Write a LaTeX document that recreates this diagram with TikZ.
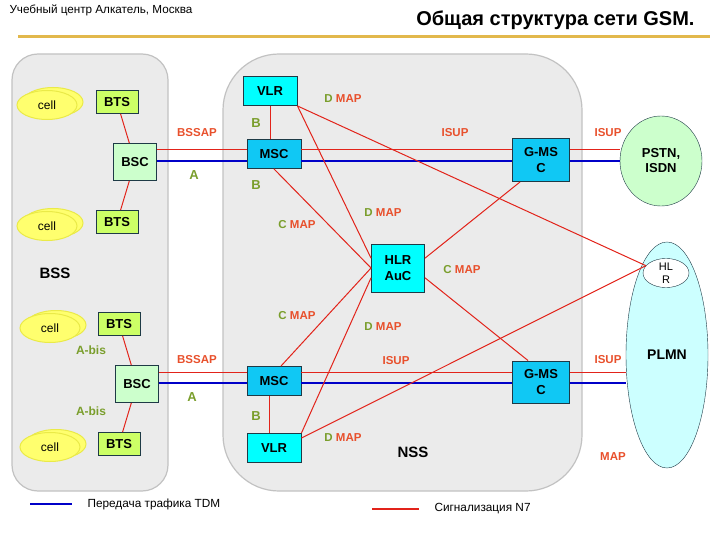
\documentclass[tikz,border=0pt]{standalone}
\usepackage{fontspec}
\setmainfont{Liberation Sans}
\usetikzlibrary{shapes.geometric}

\definecolor{sigred}{HTML}{E2231A}
\definecolor{labred}{HTML}{E8502C}
\definecolor{labgreen}{HTML}{7A9E2C}
\definecolor{tdmblue}{HTML}{0000C8}
\definecolor{gold}{HTML}{E2B84C}
\definecolor{panelfill}{HTML}{EBEBEB}
\definecolor{panelline}{HTML}{C2C2C2}
\definecolor{boxline}{HTML}{1E3A46}
\definecolor{vlrcol}{HTML}{00FFFF}
\definecolor{msccol}{HTML}{10C8F4}
\definecolor{btscol}{HTML}{CCFF66}
\definecolor{bsccol}{HTML}{CCFFCC}
\definecolor{plmncol}{HTML}{CCFFFF}
\definecolor{cellcol}{HTML}{FFFF6E}
\definecolor{celledge}{HTML}{EAEA48}

\tikzset{
  box/.style = {draw = boxline, line width = 0.9pt, minimum width = 54pt, minimum height = 29pt,
    inner sep = 0pt, align = center, font = \fontsize{13}{16}\selectfont\bfseries},
  btsbox/.style = {box, fill = btscol, minimum width = 42pt, minimum height = 23pt},
  bscbox/.style = {box, fill = bsccol, minimum width = 43pt, minimum height = 37pt},
  cell/.style = {ellipse, draw = celledge, line width = 1pt, fill = cellcol,
    minimum width = 60pt, minimum height = 29pt, inner sep = 0pt, font = \fontsize{12}{12}\selectfont},
  sig/.style = {draw = sigred, line width = 1pt},
  tdm/.style = {draw = tdmblue, line width = 1.7pt},
  lab/.style = {text = labred, font = \fontsize{11.5}{12}\selectfont\bfseries},
  ifc/.style = {text = labgreen, font = \fontsize{13}{14}\selectfont\bfseries},
  panel/.style = {fill = panelfill, draw = panelline, line width = 1.2pt}
}

\begin{document}
\begin{tikzpicture}[x = 1pt, y = -1pt]
            \useasboundingbox (0, 0) rectangle (720, 540);
            % header
            \node [anchor = west, font = \fontsize{11.7}{13}\selectfont] (school) at (6, 10) {Учебный центр Алкатель, Москва};
            \node [anchor = east, font = \fontsize{20}{22}\selectfont\bfseries] (title) at (698, 20) {Общая структура сети GSM.};
            \draw [gold, line width = 3pt] (18, 37) -- (710, 37);
            % subsystems
            \draw [panel, rounded corners = 26] (12, 54) rectangle (168, 491);
            \draw [panel, rounded corners = 56] (223, 54) rectangle (582, 491);
            \node [font = \fontsize{15}{16}\selectfont\bfseries] (bss) at (55, 273) {BSS};
            \node [font = \fontsize{15}{16}\selectfont\bfseries] (nss) at (413, 452) {NSS};
            % cells
            \foreach \name/\x/\y in {cellA/47/105, cellB/47/226, cellC/50/328, cellD/50/447} {
                \node [cell] (\name back) at (\x + 6, \y - 3) {};
                \node [cell] (\name) at (\x, \y) {cell};
            }
            % BSS
            \node [btsbox] (btsA) at (117, 102) {BTS};
            \node [btsbox] (btsB) at (117, 222) {BTS};
            \node [bscbox] (bscA) at (135, 162) {BSC};
            \node [btsbox] (btsC) at (119, 324) {BTS};
            \node [btsbox] (btsD) at (119, 444) {BTS};
            \node [bscbox] (bscB) at (137, 384) {BSC};
            % NSS
            \node [box, fill = vlrcol] (vlrA) at (270, 91) {VLR};
            \node [box, fill = msccol] (mscA) at (274, 154) {MSC};
            \node [box, fill = msccol] (mscB) at (274, 381) {MSC};
            \node [box, fill = vlrcol] (vlrB) at (274, 448) {VLR};
            \node [box, fill = vlrcol, minimum width = 53pt, minimum height = 48pt] (hlr) at (398, 268) {HLR\\AuC};
            \node [box, fill = msccol, minimum width = 57pt, minimum height = 43pt] (gmscA) at (541, 160) {G-MS\\C};
            \node [box, fill = msccol, minimum width = 57pt, minimum height = 42pt] (gmscB) at (541, 382) {G-MS\\C};
            % other networks
            \node [ellipse, draw = boxline, fill = bsccol, minimum width = 82pt, minimum height = 90pt, inner sep = 0pt,
                align = center, font = \fontsize{13}{15}\selectfont\bfseries] (pstn) at (661, 161) {PSTN,\\ISDN};
            \node [ellipse, draw = boxline, fill = plmncol, minimum width = 82pt, minimum height = 226pt, inner sep = 0pt] (plmn) at (667, 355) {};
            \node [font = \fontsize{14}{16}\selectfont\bfseries] (plmnText) at (667, 355) {PLMN};
            \node [ellipse, draw = boxline, fill = white, minimum width = 46pt, minimum height = 28pt, inner sep = 0pt,
                align = center, font = \fontsize{11}{13}\selectfont] (hlrP) at (666, 273) {HL\\R};
            % line levels
            \coordinate (sigA) at (0, 150);
            \coordinate (tdmA) at (0, 161);
            \coordinate (sigB) at (0, 372);
            \coordinate (tdmB) at (0, 383);
            % A-bis
            \draw [sig] (btsA) -- (bscA);
            \draw [sig] (btsB) -- (bscA);
            \draw [sig] (btsC) -- (bscB);
            \draw [sig] (btsD) -- (bscB);
            % upper trunk
            \draw [sig] (bscA.east |- sigA) -- (mscA.west |- sigA);
            \draw [sig] (mscA.east |- sigA) -- (gmscA.west |- sigA);
            \draw [sig] (gmscA.east |- sigA) -- (pstn.west |- sigA);
            \draw [tdm] (bscA.east |- tdmA) -- (mscA.west |- tdmA);
            \draw [tdm] (mscA.east |- tdmA) -- (gmscA.west |- tdmA);
            \draw [tdm] (gmscA.east |- tdmA) -- (pstn.west |- tdmA);
            % lower trunk
            \draw [sig] (bscB.east |- sigB) -- (mscB.west |- sigB);
            \draw [sig] (mscB.east |- sigB) -- (gmscB.west |- sigB);
            \draw [sig] (gmscB.east |- sigB) -- (plmn.west |- sigB);
            \draw [tdm] (bscB.east |- tdmB) -- (mscB.west |- tdmB);
            \draw [tdm] (mscB.east |- tdmB) -- (gmscB.west |- tdmB);
            \draw [tdm] (gmscB.east |- tdmB) -- (plmn.west |- tdmB);
            % B
            \draw [sig] (vlrA.south) -- (vlrA.south |- mscA.north);
            \draw [sig] ([xshift = -5pt]mscB.south) -- ([xshift = -5pt]mscB.south |- vlrB.north);
            % MAP
            \draw [sig] (vlrA.south east) -- (hlr.160);
            \draw [sig] (vlrA.south east) -- (hlrP.160);
            \draw [sig] (mscA.south) -- (hlr.west);
            \draw [sig] (hlr.20) -- ([xshift = 8pt]gmscA.south west);
            \draw [sig] (hlr.-20) -- ([xshift = 16pt]gmscB.north west);
            \draw [sig] (hlr.west) -- ([xshift = 7pt]mscB.north);
            \draw [sig] (hlr.200) -- (vlrB.north east);
            \draw [sig] (vlrB.20) -- (hlrP.160);
            % labels
            \node [lab] (bssapA) at (197, 133) {BSSAP};
            \node [ifc] (ifA) at (194, 175) {A};
            \node [lab] (isupA) at (455, 133) {ISUP};
            \node [lab] (isupB) at (608, 133) {ISUP};
            \node [ifc] (ifBa) at (256, 123) {B};
            \node [ifc] (ifBb) at (256, 185) {B};
            \node [lab] (dmapA) at (343, 99) {\textcolor{labgreen}{D} MAP};
            \node [lab] (dmapB) at (383, 213) {\textcolor{labgreen}{D} MAP};
            \node [lab] (cmapA) at (297, 225) {\textcolor{labgreen}{C} MAP};
            \node [lab] (cmapB) at (462, 270) {\textcolor{labgreen}{C} MAP};
            \node [lab] (cmapC) at (297, 316) {\textcolor{labgreen}{C} MAP};
            \node [lab] (dmapC) at (383, 327) {\textcolor{labgreen}{D} MAP};
            \node [ifc, font = \fontsize{12}{13}\selectfont\bfseries] (abisA) at (91, 350) {A-bis};
            \node [ifc, font = \fontsize{12}{13}\selectfont\bfseries] (abisB) at (91, 411) {A-bis};
            \node [lab] (bssapB) at (197, 360) {BSSAP};
            \node [ifc] (ifAb) at (192, 397) {A};
            \node [lab] (isupC) at (396, 361) {ISUP};
            \node [lab] (isupD) at (608, 360) {ISUP};
            \node [ifc] (ifBc) at (256, 416) {B};
            \node [lab] (dmapD) at (343, 438) {\textcolor{labgreen}{D} MAP};
            \node [lab] (mapE) at (613, 457) {MAP};
            % legend
            \node [anchor = west, font = \fontsize{11.8}{13}\selectfont] (legTdm) at (84, 504) {Передача трафика TDM};
            \node [anchor = west, font = \fontsize{11.8}{13}\selectfont] (legSig) at (431, 509) {Сигнализация N7};
            \draw [tdm] (30, 504) -- ([xshift = -12pt]legTdm.west);
            \draw [sig, line width = 1.6pt] (372, 509) -- ([xshift = -12pt]legSig.west);
        \end{tikzpicture}
\end{document}
